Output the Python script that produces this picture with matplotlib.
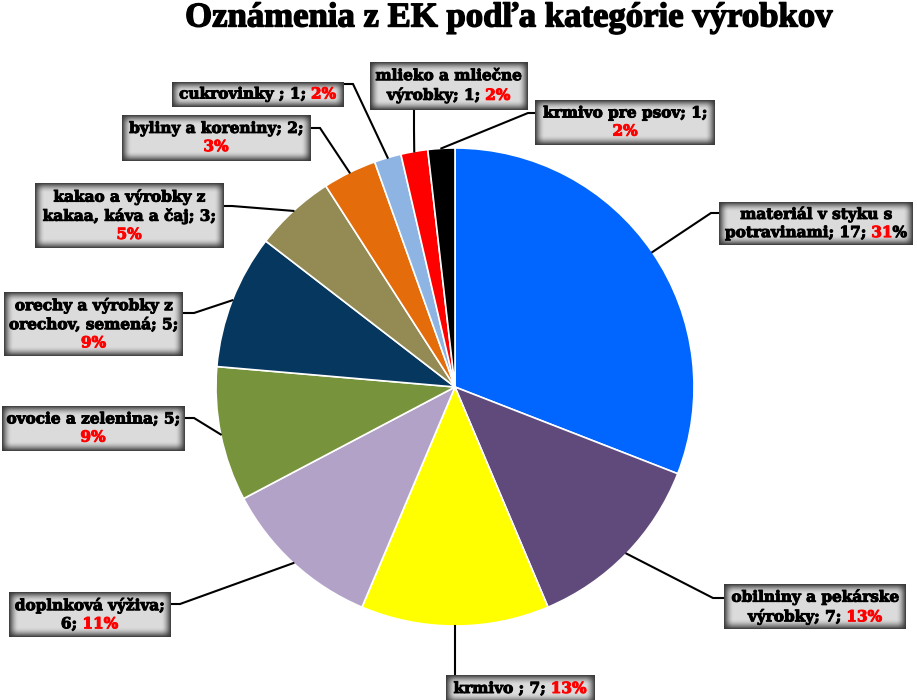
import re
import numpy as np
import matplotlib
matplotlib.use("Agg")
import matplotlib.pyplot as plt
import matplotlib.patheffects as pe
from matplotlib.offsetbox import TextArea, HPacker, VPacker, AnnotationBbox

# data, clockwise from 12 o'clock
categories = ["materiál v styku s potravinami", "obilniny a pekárske výrobky", "krmivo",
              "doplnková výživa", "ovocie a zelenina", "orechy a výrobky z orechov, semená",
              "kakao a výrobky z kakaa, káva a čaj", "byliny a koreniny", "cukrovinky",
              "mlieko a mliečne výrobky", "krmivo pre psov"]
values = [17, 7, 7, 6, 5, 5, 3, 2, 1, 1, 1]
colors = ["#0066FF", "#604A7B", "#FFFF00", "#B3A2C7", "#77933C", "#06375F",
          "#948A54", "#E46C0A", "#8EB4E3", "#FF0000", "#000000"]
# label texts as shown in the chart, {..} is drawn red
labels = ["materiál v styku s\npotravinami; 17;{ 31}%",
          "obilniny a pekárske\nvýrobky; 7;{ 13%}",
          "krmivo ; 7;{ 13%}",
          "doplnková výživa;\n6;{ 11%}",
          "ovocie a zelenina; 5;\n{9%}",
          "orechy a výrobky z\norechov, semená; 5;\n{9%}",
          "kakao a výrobky z\nkakaa, káva a čaj; 3;\n{5%}",
          "byliny a koreniny; 2;\n{3%}",
          "cukrovinky ; 1;{ 2%}",
          "mlieko a mliečne\nvýrobky; 1;{ 2%}",
          "krmivo pre psov; 1;\n{2%}"]

W, H = 917, 700
CX, CY, R = 455, 387, 239  # pie centre / radius in pixels, y from top

# label boxes (x0, y0, x1, y1) in pixels from top left
box_rects = [(719, 202, 913, 245), (724, 585, 906, 629), (446, 675, 594, 703),
             (9, 592, 170, 637), (2, 406, 184, 451), (4, 292, 183, 356),
             (35, 183, 223, 248), (122, 115, 310, 161), (172, 82, 343, 107),
             (370, 62, 527, 110), (535, 100, 715, 145)]
# leader elbow point and which side of the box it meets
elbows = [((711, 213), 'R'), ((713, 598), 'R'), ((455, 660), 'T'),
          ((180, 604), 'L'), ((194, 418), 'L'), ((194, 313), 'L'),
          ((232, 206), 'L'), ((320, 128), 'L'), ((353, 84), 'L'),
          ((414, 130), 'B'), ((528, 113), 'R')]


def px(x, y):
    return (x - CX) / R, (CY - y) / R


def shade(w, h, edge=0.22, mid=0.86, depth=10.0):
    yy, xx = np.mgrid[0:h, 0:w]
    dx = np.minimum(xx + 0.5, w - xx - 0.5)
    dy = np.minimum(yy + 0.5, h - yy - 0.5)
    tx = np.sin(np.clip(dx / depth, 0, 1) * np.pi / 2)
    ty = np.sin(np.clip(dy / depth, 0, 1) * np.pi / 2)
    g = edge + (mid - edge) * tx * ty
    return np.dstack([g, g, g])


fig = plt.figure(figsize=(W / 100, H / 100), dpi=100)
ax = fig.add_axes([0, 0, 1, 1])
wedges, _ = ax.pie(values, colors=colors, startangle=90, counterclock=False, radius=1,
                   wedgeprops=dict(edgecolor='white', linewidth=1.2))

fig.text(509 / W, 1 - 18 / H, "Oznámenia z EK podľa kategórie výrobkov", ha='center', va='center',
         fontsize=25, fontweight='bold', family='Liberation Serif',
         path_effects=[pe.withStroke(linewidth=1.0, foreground='black')])

font = dict(family='DejaVu Serif', weight='bold', size=11)
total = sum(values)
cum = np.cumsum(values) - np.array(values) / 2
for i, lab in enumerate(labels):
    x0, y0, x1, y1 = box_rects[i]
    # box with shaded edges
    ax.imshow(shade(x1 - x0, y1 - y0), extent=(px(x0, 0)[0], px(x1, 0)[0], px(0, y1)[1], px(0, y0)[1]),
              zorder=5, aspect='auto', interpolation='bilinear')
    lines = []
    for line in lab.split('\n'):
        parts = [p for p in re.split(r'(\{[^}]*\})', line) if p]
        areas = []
        for p in parts:
            col = '#FF0000' if p.startswith('{') else 'black'
            txt = p.strip('{}')
            areas.append(TextArea(txt, textprops=dict(
                color=col, path_effects=[pe.withStroke(linewidth=0.7, foreground=col)], **font)))
        lines.append(HPacker(children=areas, align='baseline', pad=0, sep=0))
    vp = VPacker(children=lines, align='center', pad=0, sep=3)
    ab = AnnotationBbox(vp, px((x0 + x1) / 2, (y0 + y1) / 2), frameon=False, zorder=6)
    ax.add_artist(ab)

    # leader line from wedge middle to the box
    ang = np.deg2rad(90 - 360 * cum[i] / total)
    (ex, ey), side = elbows[i]
    if side == 'R':
        end = (x0, ey)
    elif side == 'L':
        end = (x1, ey)
    elif side == 'B':
        end = (ex, y1)
    else:
        end = (ex, y0)
    pts = [(np.cos(ang), np.sin(ang)), px(ex, ey), px(*end)]
    ax.plot([p[0] for p in pts], [p[1] for p in pts], color='black', lw=1.5, zorder=4,
            solid_joinstyle='miter')

ax.set_xlim(-CX / R, (W - CX) / R)
ax.set_ylim(-(H - CY) / R, CY / R)
ax.axis('off')

fig.savefig("out.png", dpi=100)
